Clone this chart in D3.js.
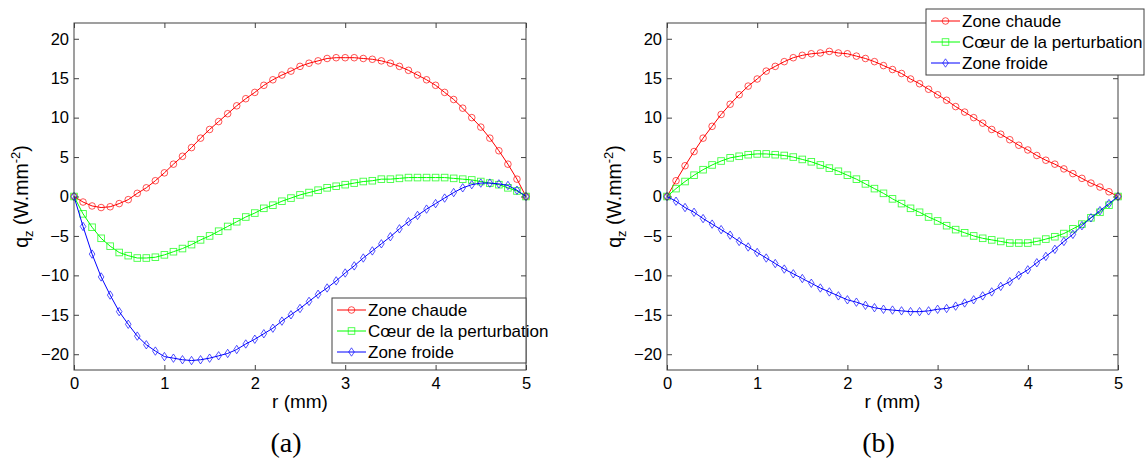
<!DOCTYPE html>
<html><head><meta charset="utf-8">
<script src="https://cdn.jsdelivr.net/npm/d3@7"></script>
<style>body{margin:0;background:#fff}svg{display:block}</style>
</head><body><svg id="c" width="1145" height="467"></svg>
<script>
const r = d3.range(0, 51).map(i => +(i * 0.1).toFixed(1));
const seriesNames = ["Zone chaude", "Cœur de la perturbation", "Zone froide"];
const xTicks = [0, 1, 2, 3, 4, 5];
const yTicks = [-20, -15, -10, -5, 0, 5, 10, 15, 20];
const captions = ["(a)", "(b)"];

const aChaude = [0,-0.7,-1.2,-1.4,-1.3,-0.9,-0.4,0.4,1.1,2.0,3.0,4.1,5.1,6.2,7.4,8.5,9.5,10.5,11.5,12.4,13.2,14.1,14.8,15.4,15.9,16.5,16.9,17.2,17.5,17.6,17.6,17.6,17.5,17.4,17.2,16.9,16.5,16.0,15.4,14.8,14.1,13.2,12.3,11.2,10.0,8.8,7.4,5.8,4.1,2.2,0];
const aCoeur = [0,-2.2,-3.9,-5.3,-6.3,-7.1,-7.5,-7.8,-7.8,-7.7,-7.4,-7.0,-6.6,-6.1,-5.5,-5.0,-4.4,-3.8,-3.2,-2.6,-2.1,-1.5,-1.1,-0.6,-0.2,0.2,0.5,0.8,1.1,1.3,1.5,1.7,1.9,2.0,2.2,2.2,2.3,2.4,2.4,2.4,2.4,2.4,2.3,2.2,2.1,1.9,1.7,1.5,1.1,0.7,0];
const aFroide = [0,-3.8,-7.3,-10.2,-12.5,-14.6,-16.2,-17.7,-18.8,-19.6,-20.3,-20.5,-20.7,-20.8,-20.7,-20.5,-20.2,-19.9,-19.4,-18.7,-18.1,-17.4,-16.7,-15.8,-15.0,-14.2,-13.3,-12.4,-11.6,-10.7,-9.7,-8.8,-7.8,-6.9,-6.0,-5.1,-4.1,-3.2,-2.4,-1.6,-0.9,-0.2,0.5,1.1,1.5,1.7,1.7,1.6,1.4,0.8,0];
const bChaude = [0,2.0,3.9,5.7,7.4,8.9,10.4,11.7,12.9,14.0,14.9,15.9,16.5,17.1,17.6,17.9,18.1,18.2,18.4,18.2,18.1,17.8,17.5,17.1,16.6,16.1,15.6,14.9,14.3,13.6,12.9,12.2,11.4,10.7,10.0,9.3,8.5,7.9,7.2,6.5,5.9,5.2,4.6,4.1,3.5,2.9,2.3,1.7,1.2,0.6,0];
const bCoeur = [0,1.0,1.9,2.7,3.4,4.0,4.5,4.9,5.1,5.3,5.4,5.4,5.3,5.2,5.0,4.7,4.4,4.0,3.6,3.2,2.7,2.2,1.6,1.0,0.4,-0.3,-0.9,-1.5,-2.0,-2.6,-3.1,-3.7,-4.2,-4.6,-5.0,-5.3,-5.5,-5.7,-5.9,-5.9,-5.9,-5.7,-5.4,-5.1,-4.7,-4.1,-3.5,-2.7,-2.0,-1.1,0];
const bFroide = [0,-0.6,-1.4,-2.0,-2.8,-3.5,-4.2,-4.9,-5.7,-6.4,-7.1,-7.8,-8.5,-9.2,-9.8,-10.4,-11.0,-11.6,-12.1,-12.6,-13.1,-13.4,-13.8,-14.1,-14.3,-14.4,-14.5,-14.6,-14.6,-14.5,-14.3,-14.2,-13.9,-13.5,-13.1,-12.6,-12.1,-11.4,-10.8,-10.0,-9.3,-8.4,-7.6,-6.7,-5.7,-4.8,-3.7,-2.7,-1.8,-0.9,0];

const colors = ["#ff0000", "#00ff00", "#0000ff"];
const markers = ["circle", "square", "diamond"];

const panels = [
  {left: 74, right: 526, series: [aChaude, aCoeur, aFroide], legend: {x: 332, y: 298, w: 194, h: 65}},
  {left: 667, right: 1118, series: [bChaude, bCoeur, bFroide], legend: {x: 926, y: 9, w: 218, h: 66}}
];
const plotTop = 23, plotBottom = 370;
const svg = d3.select("#c");
const axisColor = "#404040";
const textColor = "#000";
const tickFont = "Liberation Sans, Arial, sans-serif";

function drawMarker(g, type, x, y, color) {
  if (type === "circle") {
    g.append("circle").attr("cx", x).attr("cy", y).attr("r", 3.3)
      .attr("fill", "none").attr("stroke", color).attr("stroke-width", 0.9).attr("stroke-opacity", 0.75);
  } else if (type === "square") {
    g.append("rect").attr("x", x - 3.3).attr("y", y - 3.3).attr("width", 6.6).attr("height", 6.6)
      .attr("fill", "none").attr("stroke", color).attr("stroke-width", 0.9).attr("stroke-opacity", 0.75);
  } else {
    g.append("path").attr("d", `M${x},${y-4.2}L${x+2.8},${y}L${x},${y+4.2}L${x-2.8},${y}Z`)
      .attr("fill", "none").attr("stroke", color).attr("stroke-width", 0.9).attr("stroke-opacity", 0.75);
  }
}

panels.forEach((p, pi) => {
  const x = d3.scaleLinear().domain([0, 5]).range([p.left, p.right]);
  const y = d3.scaleLinear().domain([-22, 22]).range([plotBottom, plotTop]);
  const g = svg.append("g");

  const axB = g.append("g").attr("transform", `translate(0,${plotBottom})`)
    .call(d3.axisBottom(x).tickValues(xTicks).tickSizeInner(-5).tickSizeOuter(0).tickPadding(7).tickFormat(d3.format("d")));
  const axT = g.append("g").attr("transform", `translate(0,${plotTop})`)
    .call(d3.axisTop(x).tickValues(xTicks).tickSizeInner(-5).tickSizeOuter(0).tickFormat(""));
  const axL = g.append("g").attr("transform", `translate(${p.left},0)`)
    .call(d3.axisLeft(y).tickValues(yTicks).tickSizeInner(-5).tickSizeOuter(0).tickPadding(5).tickFormat(d3.format("d")));
  const axR = g.append("g").attr("transform", `translate(${p.right},0)`)
    .call(d3.axisRight(y).tickValues(yTicks).tickSizeInner(-5).tickSizeOuter(0).tickFormat(""));
  [axB, axT, axL, axR].forEach(a => {
    a.select(".domain").remove();
    a.selectAll("line").attr("stroke", axisColor);
    a.selectAll("text").attr("font-family", tickFont).attr("font-size", 16.5).attr("fill", textColor);
  });
  axB.selectAll("text").attr("dy", "0.75em");

  p.series.forEach((vals, si) => {
    const pts = r.map((rv, i) => [x(rv), y(vals[i])]);
    g.append("path").attr("d", d3.line()(pts)).attr("fill", "none")
      .attr("stroke", colors[si]).attr("stroke-width", 1);
    const mg = g.append("g");
    pts.forEach(pt => drawMarker(mg, markers[si], pt[0], pt[1], colors[si]));
  });

  g.append("rect").attr("x", p.left).attr("y", plotTop).attr("width", p.right - p.left).attr("height", plotBottom - plotTop)
    .attr("fill", "none").attr("stroke", axisColor).attr("stroke-width", 1);

  g.append("text").attr("x", (p.left + p.right) / 2).attr("y", 408).attr("text-anchor", "middle")
    .attr("font-family", tickFont).attr("font-size", 19).attr("fill", textColor).text("r (mm)");

  const yl = g.append("text").attr("transform", `translate(${p.left - 46},${(plotTop + plotBottom) / 2}) rotate(-90)`)
    .attr("text-anchor", "middle").attr("font-family", tickFont).attr("font-size", 19.5).attr("fill", textColor);
  yl.append("tspan").text("q");
  yl.append("tspan").attr("font-size", 13).attr("dy", 5).text("z");
  yl.append("tspan").attr("dy", -5).text(" (W.mm");
  yl.append("tspan").attr("font-size", 13).attr("dy", -8).text("-2");
  yl.append("tspan").attr("dy", 8).text(")");

  const L = p.legend;
  const lg = svg.append("g");
  lg.append("rect").attr("x", L.x).attr("y", L.y).attr("width", L.w).attr("height", L.h)
    .attr("fill", "#fff").attr("stroke", axisColor).attr("stroke-width", 1);
  seriesNames.forEach((name, si) => {
    const cy = L.y + 12 + si * 21;
    lg.append("line").attr("x1", L.x + 5).attr("x2", L.x + 34).attr("y1", cy).attr("y2", cy)
      .attr("stroke", colors[si]).attr("stroke-width", 1);
    drawMarker(lg, markers[si], L.x + 19.5, cy, colors[si]);
    lg.append("text").attr("x", L.x + 36).attr("y", cy).attr("dy", "0.36em")
      .attr("font-family", tickFont).attr("font-size", 17).attr("fill", textColor).text(name);
  });

  svg.append("text").attr("x", (p.left + p.right) / 2 - 14).attr("y", 452).attr("text-anchor", "middle")
    .attr("font-family", "Liberation Serif, DejaVu Serif, serif").attr("font-size", 28).attr("fill", textColor)
    .text(captions[pi]);
});
</script></body></html>
